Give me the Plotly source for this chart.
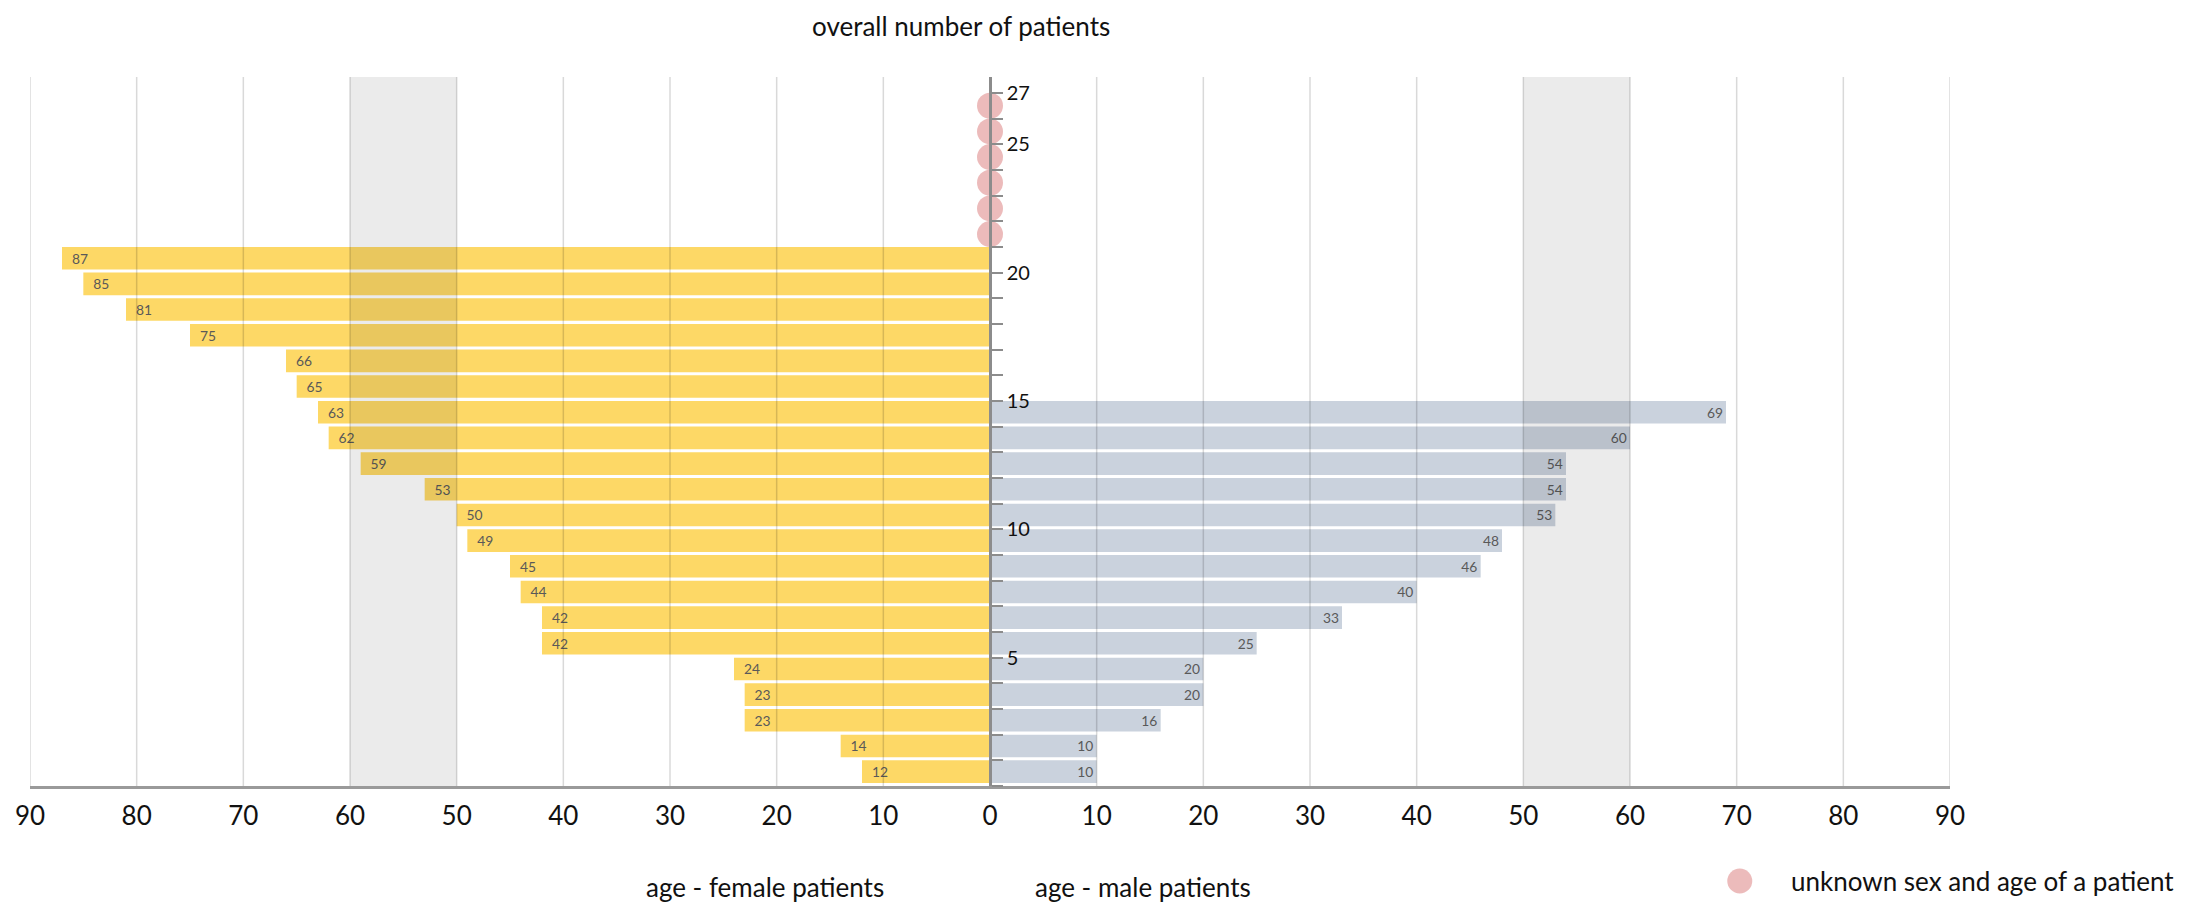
import plotly.graph_objects as go

# ---- data ----
female_rows = list(range(21))
female_counts = [12, 14, 23, 23, 24, 42, 42, 44, 45, 49, 50, 53, 59, 62, 63, 65, 66, 75, 81, 85, 87]
male_rows = list(range(15))
male_counts = [10, 10, 16, 20, 20, 25, 33, 40, 46, 48, 53, 54, 54, 60, 69]
unknown_rows = [21, 22, 23, 24, 25, 26]
unknown_x = [0, 0, 0, 0, 0, 0]

x_ticks = [-90, -80, -70, -60, -50, -40, -30, -20, -10, 0, 10, 20, 30, 40, 50, 60, 70, 80, 90]
x_ticktext = [str(abs(v)) for v in x_ticks]
y_ticks = list(range(28))
y_labeled = [5, 10, 15, 20, 25, 27]
y_ticktext = [str(v) if v in y_labeled else "" for v in y_ticks]
bands = [(-60, -50), (50, 60)]

FONT = "Lato"
AXIS_GRAY = "#8c8c8c"

fig = go.Figure()

fig.add_trace(go.Bar(
    y=female_rows, x=[-v for v in female_counts], orientation="h",
    width=0.88, offset=0.12,
    marker=dict(color="rgb(253,216,102)", line=dict(width=0)),
    text=["\u2002" + str(v) for v in female_counts], textposition="inside",
    insidetextanchor="end", textangle=0,
    insidetextfont=dict(family=FONT, size=15, color="#595959"),
    showlegend=False, hoverinfo="skip",
))
fig.add_trace(go.Bar(
    y=male_rows, x=male_counts, orientation="h",
    width=0.88, offset=0.12,
    marker=dict(color="rgb(202,210,221)", line=dict(width=0)),
    text=[str(v) for v in male_counts], textposition="inside",
    insidetextanchor="end", textangle=0,
    insidetextfont=dict(family=FONT, size=15, color="#595959"),
    showlegend=False, hoverinfo="skip",
))
fig.add_trace(go.Scatter(
    x=unknown_x, y=[r + 0.5 for r in unknown_rows], mode="markers",
    marker=dict(size=26, color="rgba(226,150,150,0.65)", line=dict(width=0)),
    name="unknown sex and age of a patient", showlegend=False, hoverinfo="skip",
))

shapes = []
for a, b in bands:
    shapes.append(dict(type="rect", xref="x", yref="paper", x0=a, x1=b, y0=0, y1=1,
                       fillcolor="rgba(0,0,0,0.08)", line=dict(width=0), layer="above"))
for v in x_ticks:
    if v == 0:
        continue
    shapes.append(dict(type="line", xref="x", yref="paper", x0=v, x1=v, y0=0, y1=1,
                       line=dict(color="rgba(0,0,0,0.15)", width=1.5), layer="above"))
# legend marker
shapes.append(dict(type="circle", xref="paper", yref="paper",
                   xsizemode="pixel", ysizemode="pixel",
                   xanchor=0.8905, yanchor=-0.1340, x0=-12.5, x1=12.5, y0=-12.5, y1=12.5,
                   fillcolor="rgba(226,150,150,0.65)", line=dict(width=0)))

annotations = [
    dict(text="overall number of patients", xref="paper", yref="paper", x=0.4849, y=1.072,
         showarrow=False, font=dict(family=FONT, size=26, color="#111111"),
         xanchor="center", yanchor="middle"),
    dict(text="age - female patients", xref="paper", yref="paper", x=0.3828, y=-0.1425,
         showarrow=False, font=dict(family=FONT, size=26, color="#111111"),
         xanchor="center", yanchor="middle"),
    dict(text="age - male patients", xref="paper", yref="paper", x=0.5797, y=-0.1425,
         showarrow=False, font=dict(family=FONT, size=26, color="#111111"),
         xanchor="center", yanchor="middle"),
    dict(text="unknown sex and age of a patient", xref="paper", yref="paper", x=0.9160, y=-0.1340,
         showarrow=False, font=dict(family=FONT, size=26, color="#111111"),
         xanchor="left", yanchor="middle"),
]

fig.update_layout(
    width=2200, height=896,
    margin=dict(l=22, r=258, t=69, b=118, autoexpand=False),
    paper_bgcolor="white", plot_bgcolor="white",
    barmode="overlay",
    font=dict(family=FONT, color="#111111"),
    shapes=shapes, annotations=annotations,
    xaxis=dict(
        range=[-90, 90], tickvals=x_ticks, ticktext=x_ticktext,
        showgrid=False, zeroline=False, automargin=False,
        showline=True, linecolor="#9a9a9a", linewidth=2.5,
        ticks="", tickfont=dict(family=FONT, size=26, color="#111111"),
        ticklabelstandoff=5, fixedrange=True,
    ),
    yaxis=dict(
        range=[0, 27.62], tickvals=y_ticks, ticktext=y_ticktext,
        anchor="free", position=0.5, side="right", automargin=False,
        showgrid=False, zeroline=False,
        showline=True, linecolor=AXIS_GRAY, linewidth=2.5,
        ticks="outside", ticklen=11, tickwidth=2, tickcolor=AXIS_GRAY,
        tickfont=dict(family=FONT, size=20, color="#111111"),
        layer="above traces",
    ),
    yaxis2=dict(
        matches="y", overlaying="y", anchor="free", position=0.5, side="left",
        tickvals=y_ticks, showticklabels=False, automargin=False,
        showgrid=False, zeroline=False, showline=False,
        ticks="outside", ticklen=11, tickwidth=2, tickcolor=AXIS_GRAY,
        layer="above traces",
    ),
)

fig.write_html("out.html")
